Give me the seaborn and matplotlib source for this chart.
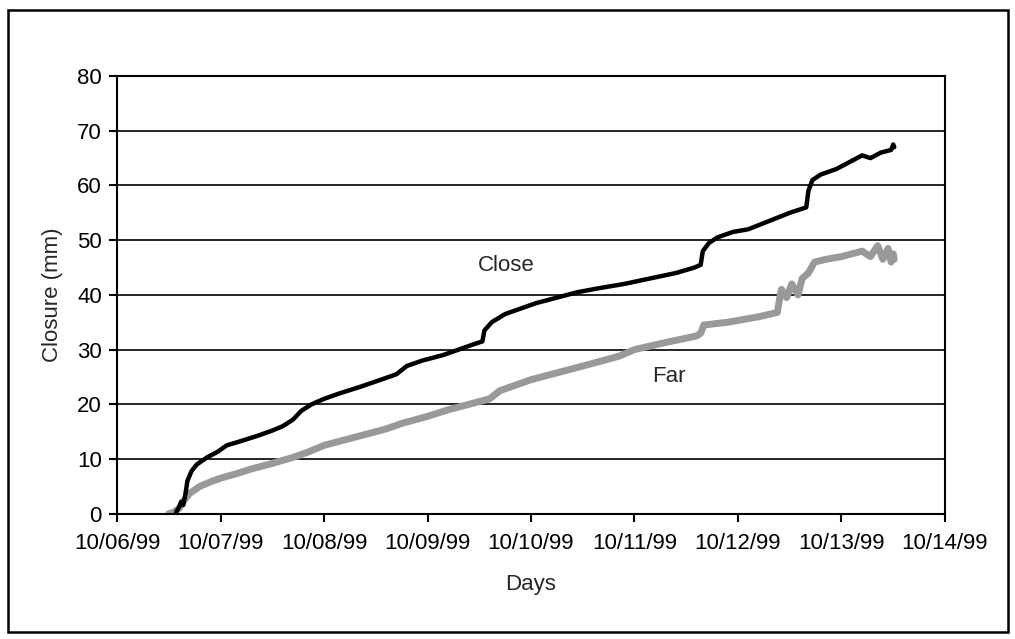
import matplotlib
matplotlib.use("Agg")
import matplotlib.pyplot as plt
import matplotlib.dates as mdates
from matplotlib.patches import Rectangle
import numpy as np
import pandas as pd
import seaborn as sns

# Elapsed time (days after 10/06/99 00:00) and closure readings (mm)
close_days = [0.57, 0.60, 0.62, 0.64, 0.66, 0.68, 0.72, 0.77, 0.87, 0.97, 1.06, 1.20,
              1.35, 1.50, 1.60, 1.70, 1.78, 1.88, 2.00, 2.15, 2.35, 2.55, 2.70, 2.80,
              2.95, 3.15, 3.30, 3.45, 3.53, 3.55, 3.62, 3.75, 3.90, 4.05, 4.25, 4.45,
              4.65, 4.90, 5.15, 5.40, 5.58, 5.64, 5.66, 5.72, 5.80, 5.95, 6.10, 6.30,
              6.50, 6.66, 6.68, 6.72, 6.80, 6.95, 7.10, 7.20, 7.28, 7.38, 7.48, 7.50,
              7.51]
close_mm = [0.3, 1.2, 2.2, 1.6, 3.5, 6.0, 7.8, 9.0, 10.3, 11.3, 12.5, 13.3,
            14.2, 15.2, 16.0, 17.2, 18.8, 20.0, 21.0, 22.0, 23.2, 24.5, 25.5, 27.0,
            28.0, 29.0, 30.0, 31.0, 31.5, 33.5, 35.0, 36.5, 37.5, 38.5, 39.5, 40.5,
            41.2, 42.0, 43.0, 44.0, 45.0, 45.5, 48.0, 49.5, 50.5, 51.5, 52.0, 53.5,
            55.0, 56.0, 59.0, 61.0, 62.0, 63.0, 64.5, 65.5, 65.0, 66.0, 66.5, 67.5,
            67.0]

far_days = [0.50, 0.55, 0.60, 0.65, 0.70, 0.80, 0.90, 1.00, 1.15, 1.30, 1.50, 1.70,
            1.85, 2.00, 2.20, 2.40, 2.60, 2.75, 3.00, 3.20, 3.40, 3.60, 3.70, 3.85,
            4.00, 4.30, 4.60, 4.85, 5.00, 5.30, 5.60, 5.64, 5.67, 5.90, 6.20, 6.38,
            6.40, 6.42, 6.47, 6.52, 6.58, 6.62, 6.68, 6.74, 6.85, 7.00, 7.10, 7.20,
            7.28, 7.35, 7.40, 7.45, 7.48, 7.50, 7.51]
far_mm = [0.0, 0.3, 1.0, 2.5, 3.7, 5.0, 5.8, 6.5, 7.3, 8.2, 9.2, 10.3,
          11.3, 12.5, 13.5, 14.5, 15.5, 16.5, 17.8, 19.0, 20.0, 21.0, 22.5, 23.5,
          24.5, 26.0, 27.5, 28.8, 30.0, 31.3, 32.5, 33.0, 34.5, 35.0, 36.0, 36.8,
          39.0, 41.0, 39.5, 42.0, 40.0, 43.0, 44.0, 46.0, 46.5, 47.0, 47.5, 48.0,
          47.0, 49.0, 46.5, 48.5, 46.0, 47.5, 46.5]

y_ticks = [0, 10, 20, 30, 40, 50, 60, 70, 80]
start = pd.Timestamp("1999-10-06")
x_ticks = pd.date_range(start, periods=9, freq="D")

df = pd.concat([
    pd.DataFrame({"t": start + pd.to_timedelta(close_days, unit="D"),
                  "mm": close_mm, "gauge": "Close"}),
    pd.DataFrame({"t": start + pd.to_timedelta(far_days, unit="D"),
                  "mm": far_mm, "gauge": "Far"}),
])

sns.set_style("white")
plt.rcParams["font.family"] = ["Liberation Sans", "DejaVu Sans"]
FS = 16

fig = plt.figure(figsize=(10.15, 6.39), dpi=100)
ax = fig.add_axes([0.1153, 0.196, 0.8157, 0.685])

sns.lineplot(data=df[df.gauge == "Far"], x="t", y="mm", color="#999999",
             linewidth=5.0, ax=ax, estimator=None, sort=False)
sns.lineplot(data=df[df.gauge == "Close"], x="t", y="mm", color="black",
             linewidth=3.2, ax=ax, estimator=None, sort=False)

ax.set_xlim(x_ticks[0], x_ticks[-1])
ax.set_ylim(0, 80)
ax.set_yticks(y_ticks)
ax.set_xticks(x_ticks)
ax.xaxis.set_major_formatter(mdates.DateFormatter("%m/%d/%y"))
for y in y_ticks[1:]:
    ax.axhline(y, color="black", linewidth=1.2, zorder=0)

for side in ["left", "bottom", "right", "top"]:
    ax.spines[side].set_color("black")
    ax.spines[side].set_linewidth(1.5)
ax.tick_params(axis="both", which="major", direction="out", length=6, width=1.5,
               color="black", labelsize=FS, labelcolor="black", pad=5)
ax.tick_params(axis="x", bottom=True, pad=8)
ax.tick_params(axis="y", left=True)

ax.set_xlabel("Days", fontsize=FS, labelpad=14)
ax.set_ylabel("Closure (mm)", fontsize=FS, labelpad=10)

ax.text(start + pd.Timedelta(days=3.76), 45.4, "Close", fontsize=FS,
        ha="center", va="center")
ax.text(start + pd.Timedelta(days=5.33), 25.1, "Far", fontsize=FS,
        ha="center", va="center")

fig.add_artist(Rectangle((8 / 1015, 7 / 639), 1000 / 1015, 622 / 639,
                         transform=fig.transFigure, fill=False,
                         edgecolor="black", linewidth=1.8))

fig.savefig("out.png", dpi=100)
